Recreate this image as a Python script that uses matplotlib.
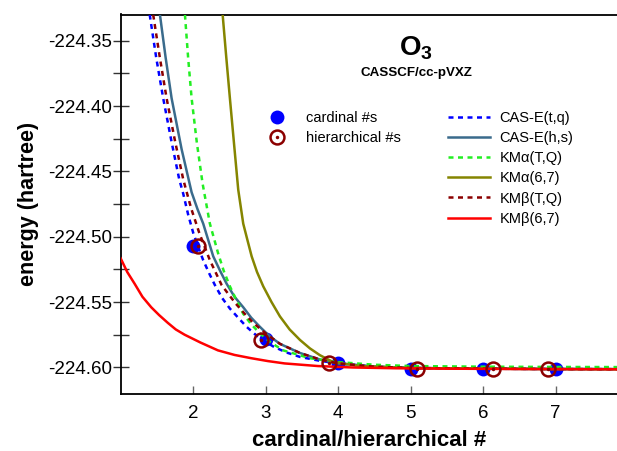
import matplotlib
matplotlib.use('Agg')
import matplotlib.pyplot as plt
from matplotlib.lines import Line2D
from matplotlib.ticker import MultipleLocator, FormatStrFormatter

plt.rcParams['font.family'] = ['Liberation Sans', 'DejaVu Sans']
plt.rcParams['axes.unicode_minus'] = False
plt.rcParams['mathtext.fontset'] = 'custom'
plt.rcParams['mathtext.bf'] = 'Liberation Sans:bold'
plt.rcParams['mathtext.rm'] = 'Liberation Sans'

# data points
card_x = [2, 3, 4, 5, 6, 7]
card_y = [-224.507, -224.5786, -224.5966, -224.6012, -224.6013, -224.6013]
hier_x = [2.07, 2.94, 3.87, 5.08, 6.14, 6.90]
hier_y = [-224.507, -224.579, -224.5966, -224.6012, -224.6013, -224.6013]

# curves
cas_tq_x = [1.40, 1.49, 1.586, 1.70, 1.807, 1.862, 1.93, 2.0, 2.07, 2.138, 2.22, 2.299, 2.40, 2.506, 2.62,
            2.737, 2.90, 3.103, 3.28, 3.472, 3.748, 4.0, 4.5, 5.0, 6.0, 7.0, 7.85]
cas_tq_y = [-224.330, -224.363, -224.394, -224.427, -224.456, -224.467, -224.483, -224.497, -224.508,
            -224.518, -224.528, -224.537, -224.547, -224.555, -224.562, -224.569, -224.577, -224.584,
            -224.5885, -224.592, -224.595, -224.597, -224.5995, -224.6005, -224.601, -224.6013, -224.6014]

cas_hs_x = [1.541, 1.62, 1.702, 1.84, 1.978, 2.06, 2.138, 2.276, 2.37, 2.461, 2.57, 2.690, 2.80, 2.920,
            3.05, 3.196, 3.472, 3.748, 4.0, 4.5, 5.0, 6.0, 7.0, 7.85]
cas_hs_y = [-224.330, -224.363, -224.394, -224.433, -224.466, -224.479, -224.490, -224.515, -224.526,
            -224.536, -224.546, -224.554, -224.562, -224.569, -224.576, -224.582, -224.589, -224.594,
            -224.597, -224.5995, -224.6005, -224.601, -224.6013, -224.6014]

kma_tq_x = [1.886, 1.93, 1.978, 2.05, 2.130, 2.230, 2.345, 2.42, 2.506, 2.60, 2.690, 2.80, 2.920, 3.07,
            3.241, 3.610, 4.0, 4.5, 5.0, 6.0, 7.0, 7.85]
kma_tq_y = [-224.330, -224.363, -224.394, -224.428, -224.4595, -224.490, -224.513, -224.526, -224.538,
            -224.549, -224.559, -224.567, -224.574, -224.581, -224.587, -224.593, -224.596, -224.598,
            -224.599, -224.5995, -224.5997, -224.5998]

kma_67_x = [2.406, 2.455, 2.506, 2.565, 2.621, 2.690, 2.75, 2.806, 2.88, 2.966, 3.08, 3.196, 3.33, 3.472,
            3.61, 3.748, 3.931, 4.3, 5.0, 6.0, 7.0, 7.85]
kma_67_y = [-224.330, -224.362, -224.394, -224.430, -224.464, -224.490, -224.503, -224.515, -224.527,
            -224.538, -224.550, -224.561, -224.571, -224.579, -224.5855, -224.5907, -224.596, -224.599,
            -224.6005, -224.601, -224.6013, -224.6014]

kmb_tq_x = [1.448, 1.54, 1.633, 1.75, 1.862, 1.97, 2.083, 2.230, 2.392, 2.50, 2.599, 2.71, 2.828, 3.0,
            3.196, 3.472, 3.748, 4.0, 4.5, 5.0, 6.0, 7.0, 7.85]
kmb_tq_y = [-224.330, -224.363, -224.394, -224.427, -224.456, -224.478, -224.497, -224.518, -224.537,
            -224.545, -224.552, -224.559, -224.566, -224.574, -224.582, -224.589, -224.594, -224.597,
            -224.5995, -224.6005, -224.601, -224.6013, -224.6014]

kmb_67_x = [1.0, 1.09, 1.192, 1.30, 1.421, 1.53, 1.651, 1.76, 1.881, 2.10, 2.341, 2.57, 2.800, 3.03,
            3.261, 3.720, 4.2, 4.8, 5.5, 6.5, 7.85]
kmb_67_y = [-224.5166, -224.527, -224.536, -224.546, -224.554, -224.560, -224.566, -224.571, -224.575,
            -224.581, -224.587, -224.5905, -224.593, -224.5952, -224.597, -224.599, -224.6001,
            -224.6007, -224.601, -224.6013, -224.6015]

W, H = 617, 451
fig = plt.figure(figsize=(W / 100, H / 100), dpi=100)
ax = fig.add_axes([120.7 / W, 57 / H, (W - 120.7) / W, (394 - 14.5) / H])

# markers first, lines on top
ax.plot(card_x, card_y, ls='none', marker='o', ms=10, color='#0000ff', mec='none', zorder=2)

lw = 1.8
ax.plot(cas_tq_x, cas_tq_y, color='#0000ff', lw=lw, dashes=(2, 1.8), zorder=3)
ax.plot(cas_hs_x, cas_hs_y, color='#3a6b8c', lw=lw, zorder=3)
ax.plot(kma_tq_x, kma_tq_y, color='#22ee22', lw=lw, dashes=(2, 1.8), zorder=3)
ax.plot(kma_67_x, kma_67_y, color='#858500', lw=lw, zorder=3)
ax.plot(kmb_tq_x, kmb_tq_y, color='#8b0000', lw=lw, dashes=(2, 1.8), zorder=3)
ax.plot(kmb_67_x, kmb_67_y, color='#ff0000', lw=lw, zorder=3)

ax.plot(hier_x, hier_y, ls='none', marker='o', ms=10, mfc='none', mec='#8b0000', mew=1.8, zorder=4)
ax.plot(hier_x, hier_y, ls='none', marker='o', ms=2.5, color='#8b0000', mec='none', zorder=4)

ax.set_xlim(1.0, 7.845)
ax.set_ylim(-224.6204, -224.3299)
ax.set_xticks([2, 3, 4, 5, 6, 7])
ax.yaxis.set_major_locator(MultipleLocator(0.05))
ax.yaxis.set_minor_locator(MultipleLocator(0.025))
ax.yaxis.set_major_formatter(FormatStrFormatter('%.2f'))

ax.spines['right'].set_visible(False)
for s in ['left', 'top', 'bottom']:
    ax.spines[s].set_linewidth(1.3)
ax.tick_params(axis='x', direction='in', length=6, width=1, color='0.4', labelsize=13.5, pad=8)
ax.tick_params(axis='y', which='both', direction='inout', length=11, width=1, color='0.2',
               labelsize=13.5, pad=1)

ax.set_xlabel('cardinal/hierarchical #', fontsize=16, fontweight='bold', labelpad=6)
ax.set_ylabel('energy (hartree)', fontsize=15.5, fontweight='bold', labelpad=6)

fig.text(416 / W, 1 - 48 / H, r'$\mathbf{O}_{\mathbf{3}}$', fontsize=20, ha='center', va='center')
fig.text(416 / W, 1 - 73 / H, 'CASSCF/cc-pVXZ', fontsize=9.6, fontweight='bold', ha='center', va='center')

# legends
h_card = Line2D([], [], ls='none', marker='o', ms=10, color='#0000ff', mec='none')
h_hier = (Line2D([], [], ls='none', marker='o', ms=10, mfc='none', mec='#8b0000', mew=1.8),
          Line2D([], [], ls='none', marker='o', ms=2.5, color='#8b0000', mec='none'))
leg1 = ax.legend([h_card, h_hier], ['cardinal #s', 'hierarchical #s'], frameon=False, fontsize=10.5,
                 loc='upper left', bbox_to_anchor=(262 / W, 1 - 111 / H), bbox_transform=fig.transFigure,
                 borderpad=0, borderaxespad=0, handlelength=2.0, handletextpad=1.05, labelspacing=0.42)
ax.add_artist(leg1)

line_handles = [
    Line2D([], [], color='#0000ff', lw=lw, dashes=(2, 1.8)),
    Line2D([], [], color='#3a6b8c', lw=lw),
    Line2D([], [], color='#22ee22', lw=lw, dashes=(2, 1.8)),
    Line2D([], [], color='#858500', lw=lw),
    Line2D([], [], color='#8b0000', lw=lw, dashes=(2, 1.8)),
    Line2D([], [], color='#ff0000', lw=lw),
]
line_labels = ['CAS-E(t,q)', 'CAS-E(h,s)', 'KMα(T,Q)', 'KMα(6,7)', 'KMβ(T,Q)', 'KMβ(6,7)']
ax.legend(line_handles, line_labels, frameon=False, fontsize=10.5,
          loc='upper left', bbox_to_anchor=(448 / W, 1 - 111 / H), bbox_transform=fig.transFigure,
          borderpad=0, borderaxespad=0, handlelength=2.9, handletextpad=0.64, labelspacing=0.42)

fig.savefig('out.png', dpi=100)
